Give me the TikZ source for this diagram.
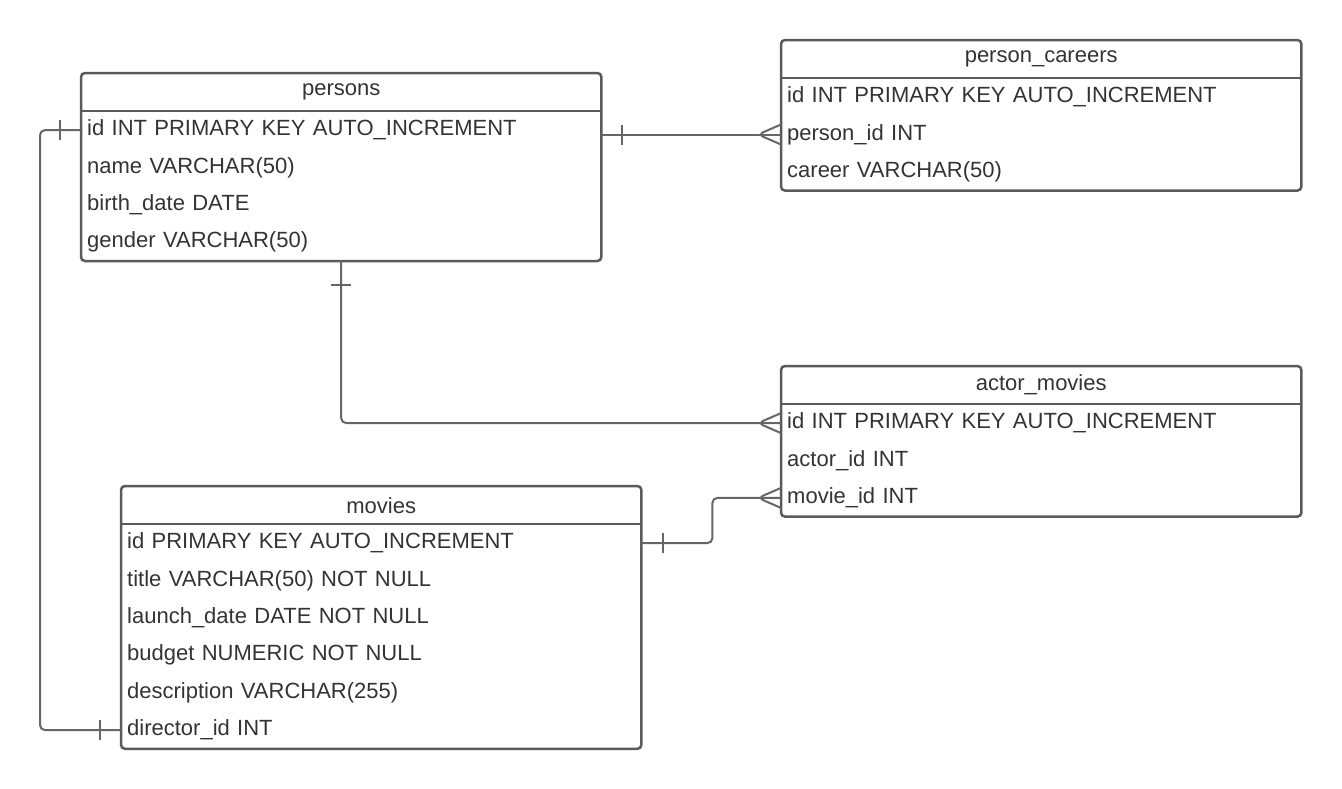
\documentclass[tikz,border=0pt]{standalone}
\usepackage{fontspec}
\setmainfont{Liberation Sans}
\usetikzlibrary{positioning, decorations.markings}
\definecolor{boxline}{HTML}{5A5A5A}
\definecolor{linkline}{HTML}{666666}
\definecolor{txt}{HTML}{333333}

\begin{document}
\begin{tikzpicture}[
x=1pt, y=-1pt,
node distance=0pt,
font=\fontsize{22}{26}\selectfont,
tabletitle/.style={text=txt,
minimum width=520pt,
minimum height=38pt,
inner sep=0pt,
align=center},
tablefield/.style={text=txt,
text width=508pt,
inner xsep=6pt,
inner ysep=0pt,
minimum height=37pt,
align=left},
tablebox/.style={draw=boxline, line width=2.5pt, rounded corners=4pt},
headline/.style={draw=boxline, line width=2pt},
link/.style={draw=linkline, line width=2pt, rounded corners=5pt},
onebar/.style={postaction={decorate, decoration={markings, mark=at position #1 with {\draw[linkline, line width=2pt] (0,-10pt) -- (0,10pt);}}}},
manyfoot/.style={postaction={decorate, decoration={markings, mark=at position 1 with {\draw[linkline, line width=2pt, line join=round] (0,10pt) -- (-23pt,0) -- (0,-10pt);}}}}
]
\useasboundingbox (0,0) rectangle (1342,788);

\node[tabletitle, anchor=north west] (ptitle) at (81,73) {persons};
\node[tablefield, below=of ptitle] (pid) {id INT PRIMARY KEY AUTO\_INCREMENT};
\node[tablefield, below=of pid] (pname) {name VARCHAR(50)};
\node[tablefield, below=of pname] (pbirth) {birth\_date DATE};
\node[tablefield, below=of pbirth] (pgender) {gender VARCHAR(50)};

\node[tabletitle, anchor=north west] (ctitle) at (781,40) {person\_careers};
\node[tablefield, below=of ctitle] (cid) {id INT PRIMARY KEY AUTO\_INCREMENT};
\node[tablefield, below=of cid] (cperson) {person\_id INT};
\node[tablefield, below=of cperson] (ccareer) {career VARCHAR(50)};

\node[tabletitle, anchor=north west] (atitle) at (781,366) {actor\_movies};
\node[tablefield, below=of atitle] (aid) {id INT PRIMARY KEY AUTO\_INCREMENT};
\node[tablefield, below=of aid] (aactor) {actor\_id INT};
\node[tablefield, below=of aactor] (amovie) {movie\_id INT};

\node[tabletitle, anchor=north west] (mtitle) at (121,486) {movies};
\node[tablefield, below=of mtitle] (mid) {id PRIMARY KEY AUTO\_INCREMENT};
\node[tablefield, below=of mid] (mtitlecol) {title VARCHAR(50) NOT NULL};
\node[tablefield, below=of mtitlecol] (mlaunch) {launch\_date DATE NOT NULL};
\node[tablefield, below=of mlaunch] (mbudget) {budget NUMERIC NOT NULL};
\node[tablefield, below=of mbudget] (mdesc) {description VARCHAR(255)};
\node[tablefield, below=of mdesc] (mdirector) {director\_id INT};

\draw[tablebox] (ptitle.north west) rectangle (pgender.south east);
\draw[headline] (ptitle.south west) -- (ptitle.south east);
\draw[tablebox] (ctitle.north west) rectangle (ccareer.south east);
\draw[headline] (ctitle.south west) -- (ctitle.south east);
\draw[tablebox] (atitle.north west) rectangle (amovie.south east);
\draw[headline] (atitle.south west) -- (atitle.south east);
\draw[tablebox] (mtitle.north west) rectangle (mdirector.south east);
\draw[headline] (mtitle.south west) -- (mtitle.south east);

\draw[link, onebar=21pt, manyfoot] (cperson.west -| pid.east) -- (cperson.west);
\draw[link, onebar=24pt, manyfoot] (pgender.south) |- (aid.west);
\draw[link, onebar=22pt, manyfoot] (mid.east) -- ++(71,0) |- (amovie.west);
\draw[link, onebar=21pt, onebar=-21pt] (pid.west) -- ++(-41,0) |- (mdirector.west);

\end{tikzpicture}
\end{document}
